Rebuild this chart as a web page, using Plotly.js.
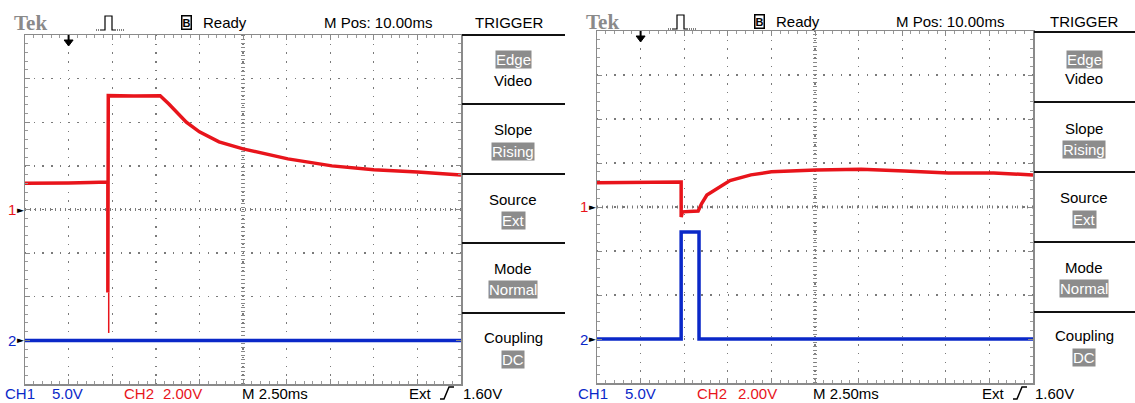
<!DOCTYPE html>
<html>
<head>
<meta charset="utf-8">
<script src="https://cdn.plot.ly/plotly-3.0.1.min.js"></script>
<style>html,body{margin:0;padding:0;background:#fff;}#chart{width:1135px;height:403px;}</style>
</head>
<body>
<div id="chart"></div>
<script>
// ---- Data (divisions: x 0..10, y 0..8 from bottom) ----
const leftCh2Time  = [0, 0.5, 1.0, 1.5, 1.9, 1.9, 1.91, 2.5, 3.1, 3.3, 3.5, 3.7, 4.0, 4.45, 5.0, 5.5, 6.03, 7.04, 8.0, 9.0, 10];
const leftCh2Volts = [4.6, 4.6, 4.61, 4.62, 4.63, 2.1, 6.61, 6.6, 6.61, 6.42, 6.2, 6.0, 5.78, 5.55, 5.39, 5.27, 5.16, 5.0, 4.91, 4.86, 4.79];
const leftSpikeTime  = [1.92, 1.92];
const leftSpikeVolts = [2.1, 1.17];
const leftCh1Time  = [0, 10];
const leftCh1Volts = [1.0, 1.0];

const rightCh2Time  = [0, 1.0, 1.93, 1.93, 1.96, 2.32, 2.4, 2.52, 2.82, 3.05, 3.53, 4.0, 5.02, 6.06, 7.05, 8.06, 9.1, 10];
const rightCh2Volts = [4.55, 4.57, 4.57, 3.77, 3.89, 3.91, 4.08, 4.27, 4.45, 4.6, 4.73, 4.8, 4.84, 4.86, 4.82, 4.77, 4.77, 4.73];
const rightCh1Time  = [0, 1.93, 1.93, 2.34, 2.34, 10];
const rightCh1Volts = [1.0, 1.0, 3.43, 3.43, 1.0, 1.0];

const headerTexts = ["Ready", "M Pos: 10.00ms", "TRIGGER"];
const menuLabels  = ["Edge", "Video", "Slope", "Rising", "Source", "Ext", "Mode", "Normal", "Coupling", "DC"];
const menuHighlighted = [true, false, false, true, false, true, false, true, false, true];
const footerTexts = ["CH1", "5.0V", "CH2", "2.00V", "M 2.50ms", "Ext", "1.60V"];

// ---- Helpers ----
const W = 1135, H = 403;
const X = px => px / W;
const Y = py => 1 - py / H;
const RED = "#e8141b", BLUE = "#0a28c8", FONT = "Liberation Sans, Arial, sans-serif";

const panels = [
  {left: 25, right: 461, top: 35, bottom: 384, menuR: 565,
   menuY: [35, 104, 174, 243, 313], menuTextY: [60, 80, 130, 151, 199, 220, 268, 289, 337, 359],
   headerY: 23, footerY: 393,
   tek: 30, pulse: 96, bbox: 187, ready: 225, mpos: 378, trig: 509,
   foot: [20, 67, 139, 182, 275, 420, 482], edge: 440},
  {left: 597, right: 1033, top: 31, bottom: 383, menuR: 1135,
   menuY: [32, 102, 172, 242, 312], menuTextY: [60, 79, 128, 149, 197, 219, 267, 288, 335, 357],
   headerY: 22, footerY: 393,
   tek: 602, pulse: 668, bbox: 759, ready: 798, mpos: 950, trig: 1084,
   foot: [593, 640, 712, 757, 846, 993, 1054], edge: 1013}
];

function axisCfg(domain) {
  return {
    domain: domain, range: [0, 10], fixedrange: true,
    showticklabels: false, zeroline: false,
    showgrid: true, gridcolor: "#7a7a7a", gridwidth: 1.4, griddash: "1.4px,7.3px",
    tick0: 0, dtick: 1,
    showline: true, linecolor: "#8a8a8a", linewidth: 1.5, mirror: "ticks",
    ticks: "inside", ticklen: 5, tickcolor: "#8a8a8a", tickwidth: 1,
    minor: {dtick: 0.2, ticks: "inside", ticklen: 3, tickcolor: "#999", tickwidth: 1, showgrid: false}
  };
}

const data = [
  {x: leftCh1Time, y: leftCh1Volts, xaxis: "x", yaxis: "y", mode: "lines", line: {color: BLUE, width: 3.5}, hoverinfo: "skip"},
  {x: leftCh2Time, y: leftCh2Volts, xaxis: "x", yaxis: "y", mode: "lines", line: {color: RED, width: 3.5}, hoverinfo: "skip"},
  {x: leftSpikeTime, y: leftSpikeVolts, xaxis: "x", yaxis: "y", mode: "lines", line: {color: RED, width: 1.5}, hoverinfo: "skip"},
  {x: rightCh1Time, y: rightCh1Volts, xaxis: "x2", yaxis: "y2", mode: "lines", line: {color: BLUE, width: 3.5}, hoverinfo: "skip"},
  {x: rightCh2Time, y: rightCh2Volts, xaxis: "x2", yaxis: "y2", mode: "lines", line: {color: RED, width: 3.5}, hoverinfo: "skip"}
];

const shapes = [];
const annotations = [];
function txt(x, y, text, font, extra) {
  annotations.push(Object.assign({xref: "paper", yref: "paper", x: X(x), y: Y(y), text: text,
    showarrow: false, xanchor: "center", yanchor: "middle", font: font}, extra || {}));
}

panels.forEach((p, i) => {
  const xr = i === 0 ? "x" : "x2", yr = i === 0 ? "y" : "y2";
  // center graticule lines
  shapes.push({type: "line", xref: xr, yref: yr, x0: 5, x1: 5, y0: 0, y1: 8, layer: "below",
               line: {color: "#8a8a8a", width: 4, dash: "1px,3px"}});
  shapes.push({type: "line", xref: xr, yref: yr, x0: 0, x1: 10, y0: 4, y1: 4, layer: "below",
               line: {color: "#7a7a7a", width: 3, dash: "1px,4px"}});
  // menu separators
  p.menuY.forEach(y => shapes.push({type: "line", xref: "paper", yref: "paper",
    x0: X(p.right + 1), x1: X(p.menuR), y0: Y(y), y1: Y(y), line: {color: "#111", width: 2}}));
  // trigger position arrow
  const ax = p.left + 43.6;
  shapes.push({type: "line", xref: "paper", yref: "paper", x0: X(ax), x1: X(ax), y0: Y(p.top), y1: Y(p.top + 7), line: {color: "#000", width: 2}});
  shapes.push({type: "path", xref: "paper", yref: "paper",
    path: `M ${X(ax - 4.5)} ${Y(p.top + 5)} L ${X(ax + 4.5)} ${Y(p.top + 5)} L ${X(ax)} ${Y(p.top + 11)} Z`,
    fillcolor: "#000", line: {color: "#000", width: 1}});
  // pulse icon
  const pu = p.pulse, hy = p.headerY;
  shapes.push({type: "path", xref: "paper", yref: "paper",
    path: `M ${X(pu + 5)} ${Y(hy + 7)} L ${X(pu + 9)} ${Y(hy + 7)} L ${X(pu + 9)} ${Y(hy - 7)} L ${X(pu + 16)} ${Y(hy - 7)} L ${X(pu + 16)} ${Y(hy + 7)} L ${X(pu + 19)} ${Y(hy + 7)}`,
    line: {color: "#000", width: 1.2}});
  shapes.push({type: "line", xref: "paper", yref: "paper", x0: X(pu), x1: X(pu + 5), y0: Y(hy + 7), y1: Y(hy + 7), line: {color: "#000", width: 1.2, dash: "1px,1px"}});
  shapes.push({type: "line", xref: "paper", yref: "paper", x0: X(pu + 19), x1: X(pu + 29), y0: Y(hy + 7), y1: Y(hy + 7), line: {color: "#000", width: 1.2, dash: "1px,1px"}});
  // rising-edge symbol in footer
  const e = p.edge, fy = p.footerY;
  shapes.push({type: "path", xref: "paper", yref: "paper",
    path: `M ${X(e)} ${Y(fy + 6)} L ${X(e + 4)} ${Y(fy + 6)} L ${X(e + 9)} ${Y(fy - 6)} L ${X(e + 14)} ${Y(fy - 6)}`,
    line: {color: "#000", width: 1.5}});

  // header texts
  txt(p.tek, hy, "Tek", {family: "Liberation Serif, DejaVu Serif, serif", size: 21, color: "#8a8a8a", weight: "bold"});
  txt(p.bbox, hy, "B", {family: FONT, size: 11, color: "#000", weight: "bold"}, {bordercolor: "#000", borderwidth: 1.5, borderpad: 0});
  [p.ready, p.mpos, p.trig].forEach((cx, k) => txt(cx, hy, headerTexts[k], {family: FONT, size: 15, color: "#000"}));
  // menu texts
  const mc = (p.right + p.menuR) / 2;
  menuLabels.forEach((t, k) => {
    const hl = menuHighlighted[k];
    txt(mc, p.menuTextY[k], t, {family: FONT, size: 15, color: hl ? "#ffffff" : "#000"},
        {bgcolor: hl ? "#8c8c8c" : "rgba(0,0,0,0)", borderpad: 0});
  });
  // channel markers
  [[4, "1", RED], [1, "2", BLUE]].forEach(([lvl, t, c]) => {
    const py = p.bottom - lvl * (p.bottom - p.top) / 8;
    txt(p.left - 13, py, t, {family: FONT, size: 15, color: c});
    txt(p.left - 5, py, "►", {family: "DejaVu Sans", size: 9, color: "#000"});
  });
  // footer
  const fc = [BLUE, BLUE, RED, RED, "#000", "#000", "#000"];
  footerTexts.forEach((t, k) => txt(p.foot[k], fy, t, {family: FONT, size: 15, color: fc[k]}));
});

const layout = {
  width: W, height: H, margin: {l: 0, r: 0, t: 0, b: 0},
  paper_bgcolor: "#fff", plot_bgcolor: "#fff", showlegend: false,
  xaxis:  Object.assign(axisCfg([X(panels[0].left), X(panels[0].right)]), {anchor: "y"}),
  yaxis:  Object.assign(axisCfg([Y(panels[0].bottom), Y(panels[0].top)]), {range: [0, 8], anchor: "x"}),
  xaxis2: Object.assign(axisCfg([X(panels[1].left), X(panels[1].right)]), {anchor: "y2"}),
  yaxis2: Object.assign(axisCfg([Y(panels[1].bottom), Y(panels[1].top)]), {range: [0, 8], anchor: "x2"}),
  shapes: shapes, annotations: annotations
};

Plotly.newPlot("chart", data, layout, {staticPlot: true, displayModeBar: false});
</script>
</body>
</html>
